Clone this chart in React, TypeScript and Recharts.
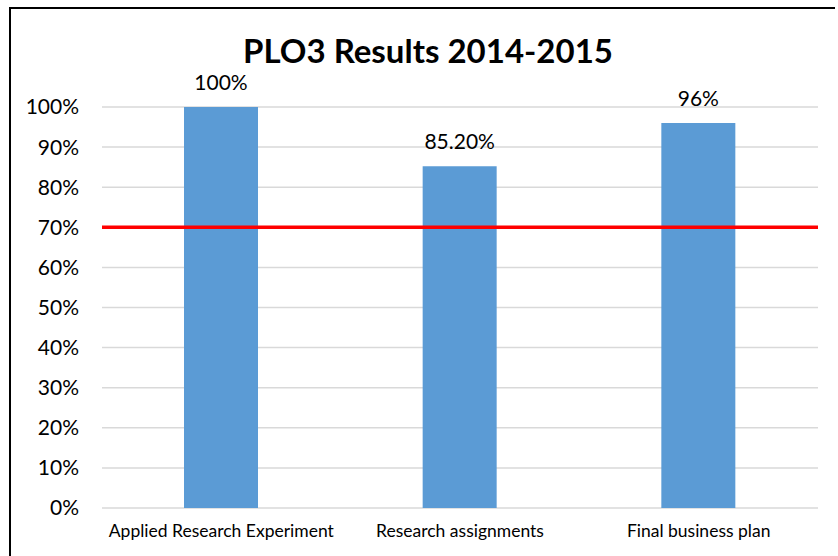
import React from 'react';
import { BarChart, Bar, XAxis, YAxis, CartesianGrid, ReferenceLine, LabelList } from 'recharts';

const categories = ['Applied Research Experiment', 'Research assignments', 'Final business plan'];
const results = [100, 85.2, 96];
const resultLabels = ['100%', '85.20%', '96%'];
const yTicks = [0, 10, 20, 30, 40, 50, 60, 70, 80, 90, 100];
const target = 70;

const FONT = 'Lato, "Open Sans", sans-serif';

const data = categories.map((name, i) => ({
    name,
    value: results[i],
    label: resultLabels[i],
}));

const App: React.FC = () => {
    return (
        <div style={{ position: 'absolute', left: 0, top: 0, width: 838, height: 556, overflow: 'hidden', background: '#fff', fontFamily: FONT }}>
            {/* chart frame: only its top and left edges are inside the crop */}
            <div style={{ position: 'absolute', left: 9, top: 7, width: 826, height: 2, background: '#000' }} />
            <div style={{ position: 'absolute', left: 9, top: 7, width: 2, height: 549, background: '#000' }} />
            <div style={{ position: 'absolute', left: 0, width: 856, top: 28, textAlign: 'center', fontSize: 33, fontWeight: 700, color: '#000', lineHeight: '44px' }}>
                PLO3 Results 2014-2015
            </div>
            <BarChart
                width={838}
                height={556}
                data={data}
                margin={{ top: 107, right: 20, left: 0, bottom: 18 }}
                style={{ position: 'absolute', left: 0, top: 0 }}
            >
                <CartesianGrid vertical={false} stroke="#d9d9d9" strokeWidth={1.5} />
                <XAxis
                    dataKey="name"
                    axisLine={false}
                    tickLine={false}
                    tickMargin={11}
                    interval={0}
                    tick={{ fontSize: 17.5, fill: '#000', fontFamily: FONT }}
                />
                <YAxis
                    width={102}
                    domain={[0, 100]}
                    ticks={yTicks}
                    axisLine={false}
                    tickLine={false}
                    tickMargin={17}
                    tickFormatter={(v: number) => `${v}%`}
                    tick={{ fontSize: 21, fill: '#000', fontFamily: FONT }}
                />
                <Bar dataKey="value" fill="#5b9bd5" barSize={74} isAnimationActive={false}>
                    <LabelList dataKey="label" position="top" offset={17} fill="#000" fontSize={21} fontFamily={FONT} />
                </Bar>
                <ReferenceLine y={target} stroke="#ff0000" strokeWidth={3.5} />
            </BarChart>
        </div>
    );
};

export default App;
